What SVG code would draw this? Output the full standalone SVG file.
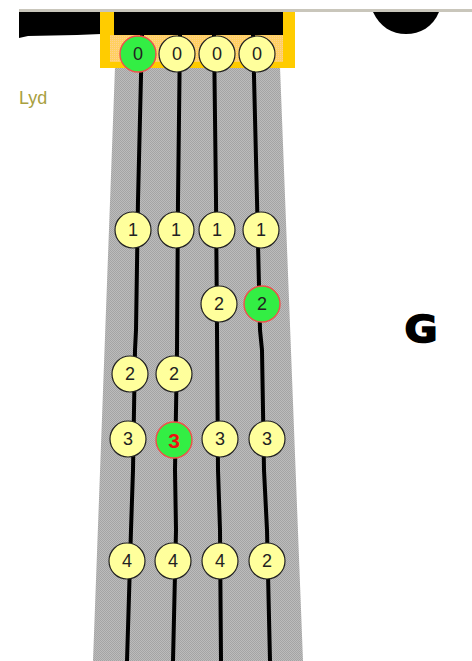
<svg xmlns="http://www.w3.org/2000/svg" width="472" height="661" viewBox="0 0 472 661">
<style>
.n{stroke:#222;stroke-width:1.2;fill:#ffff9c}
.g{stroke:#f0504a;stroke-width:1.4;fill:#33ee44}
.t{font-family:"Liberation Sans",sans-serif;font-size:18px;fill:#222;text-anchor:middle}
.r{font-family:"Liberation Sans",sans-serif;font-size:21px;font-weight:bold;fill:#ee1111;text-anchor:middle}
.s{fill:none;stroke:#000;stroke-width:4}
</style>
<defs>
<pattern id="grey" width="2" height="2" patternUnits="userSpaceOnUse"><rect width="2" height="2" fill="#bcbcbc"/><rect width="1" height="1" fill="#a4a4a4"/><rect x="1" y="1" width="1" height="1" fill="#a4a4a4"/></pattern>
<pattern id="peach" width="2" height="2" patternUnits="userSpaceOnUse"><rect width="2" height="2" fill="#ffd060"/><rect width="1" height="1" fill="#ffd090"/></pattern>
</defs>
<rect width="472" height="661" fill="#fff"/>
<rect x="19" y="9" width="453" height="3" fill="#c9c6bb"/>
<g id="body">
<path d="M19 12H101V34L77 35L28 36L19 38Z" fill="#000"/>
<path d="M373 12H439C433 27 420 34 406 34C392 34 380 27 373 12Z" fill="#000"/>
<polygon points="115,67 280,67 303,661 93,661" fill="url(#grey)"/>
<rect x="100" y="12" width="195" height="56" fill="#ffcc00"/>
<rect x="110" y="35" width="173" height="27" fill="url(#peach)"/>
<rect x="114" y="12" width="169" height="23" fill="#000"/>
</g>
<g id="strings">
<path class="s" d="M142 35L138 200L136 330L135 350L133 470L131 530L127 661"/>
<path class="s" d="M180 35L178 200L177 350L175 470L176 530L173 661"/>
<path class="s" d="M214 35L216 200L217 330L218 470L220 530L221 661"/>
<path class="s" d="M253 35L257 200L260 330L262 350L264 470L267 530L270 661"/>
</g>
<text x="19" y="104" font-family="'Liberation Sans',sans-serif" font-size="18" fill="#a8a040">Lyd</text>
<g id="n01"><circle class="g" cx="138" cy="54" r="18"/><text class="t" x="138" y="60">0</text></g>
<g id="n02"><circle class="n" cx="177" cy="54" r="18"/><text class="t" x="177" y="60">0</text></g>
<g id="n03"><circle class="n" cx="217" cy="54" r="18"/><text class="t" x="217" y="60">0</text></g>
<g id="n04"><circle class="n" cx="257" cy="54" r="18"/><text class="t" x="257" y="60">0</text></g>
<g id="n11"><circle class="n" cx="133" cy="230" r="18"/><text class="t" x="133" y="236">1</text></g>
<g id="n12"><circle class="n" cx="176" cy="230" r="18"/><text class="t" x="176" y="236">1</text></g>
<g id="n13"><circle class="n" cx="217" cy="230" r="18"/><text class="t" x="217" y="236">1</text></g>
<g id="n14"><circle class="n" cx="261" cy="230" r="18"/><text class="t" x="261" y="236">1</text></g>
<g id="n23"><circle class="n" cx="219" cy="304" r="18"/><text class="t" x="219" y="310">2</text></g>
<g id="n24"><circle class="g" cx="262" cy="304" r="18"/><text class="t" x="262" y="310">2</text></g>
<g id="n21"><circle class="n" cx="130" cy="374" r="18"/><text class="t" x="130" y="380">2</text></g>
<g id="n22"><circle class="n" cx="174" cy="374" r="18"/><text class="t" x="174" y="380">2</text></g>
<g id="n31"><circle class="n" cx="128" cy="439" r="18"/><text class="t" x="128" y="445">3</text></g>
<g id="n32"><circle class="g" cx="174" cy="440" r="18"/><text class="r" x="174" y="447.500">3</text></g>
<g id="n33"><circle class="n" cx="220" cy="439" r="18"/><text class="t" x="220" y="445">3</text></g>
<g id="n34"><circle class="n" cx="267" cy="439" r="18"/><text class="t" x="267" y="445">3</text></g>
<g id="n41"><circle class="n" cx="127" cy="561" r="18"/><text class="t" x="127" y="567">4</text></g>
<g id="n42"><circle class="n" cx="173" cy="561" r="18"/><text class="t" x="173" y="567">4</text></g>
<g id="n43"><circle class="n" cx="220" cy="561" r="18"/><text class="t" x="220" y="567">4</text></g>
<g id="n44"><circle class="n" cx="267" cy="561" r="18"/><text class="t" x="267" y="567">2</text></g>
<text transform="translate(421 342) scale(1.12 1.05)" font-family="'DejaVu Sans',sans-serif" font-size="36" font-weight="bold" stroke="#000" stroke-width="1.5" text-anchor="middle">G</text>
</svg>
